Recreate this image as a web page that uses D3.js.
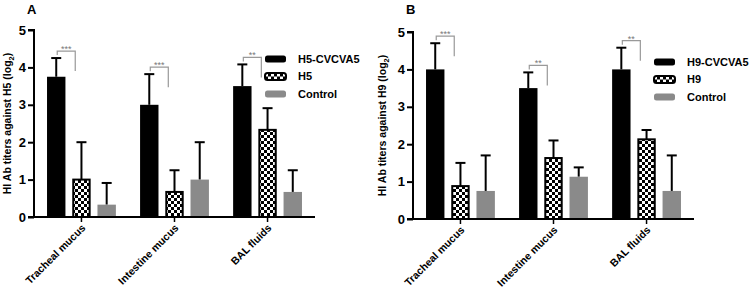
<!DOCTYPE html>
<html>
<head>
<meta charset="utf-8">
<script src="https://cdn.jsdelivr.net/npm/d3@7"></script>
<style>
  body { margin: 0; background: #fff; }
  svg { font-family: Arial, "Liberation Sans", sans-serif; }
</style>
</head>
<body>
<div id="chart"></div>
<script>
// categories and series
const categories = ["Tracheal mucus", "Intestine mucus", "BAL fluids"];
const yTicks = [0, 1, 2, 3, 4, 5];

// panel A (against H5)
const seriesA = ["H5-CVCVA5", "H5", "Control"];
const meanA = [[3.75, 1.0, 0.33], [3.0, 0.67, 1.0], [3.5, 2.33, 0.67]];
const errA = [[0.5, 1.0, 0.58], [0.82, 0.58, 1.0], [0.58, 0.58, 0.58]];
const starsA = ["***", "***", "**"];

// panel B (against H9)
const seriesB = ["H9-CVCVA5", "H9", "Control"];
const meanB = [[4.0, 0.88, 0.75], [3.5, 1.63, 1.13], [4.0, 2.13, 0.75]];
const errB = [[0.7, 0.62, 0.95], [0.42, 0.47, 0.25], [0.58, 0.25, 0.95]];
const starsB = ["***", "**", "**"];

const svg = d3.select("#chart")
    .append("svg")
    .attr("width", 750)
    .attr("height", 288);

// checker pattern for the middle series
const pat = svg.append("defs").append("pattern")
    .attr("id", "checker")
    .attr("patternUnits", "userSpaceOnUse")
    .attr("width", 6)
    .attr("height", 6);
pat.append("rect").attr("width", 6).attr("height", 6).attr("fill", "#fff");
pat.append("rect").attr("width", 3).attr("height", 3).attr("fill", "#000");
pat.append("rect").attr("x", 3).attr("y", 3).attr("width", 3).attr("height", 3).attr("fill", "#000");

const fills = ["#000", "url(#checker)", "#8a8a8a"];

function createPanel(opt) {
    const g = svg.append("g");
    const x0 = opt.axisX, x1 = opt.axisX + 281;

    const xScale = d3.scaleBand()
        .domain(categories)
        .range([x0, x1])
        .paddingInner(0.26)
        .paddingOuter(0.14);

    const xInner = d3.scaleBand()
        .domain(opt.series)
        .range([0, xScale.bandwidth()])
        .paddingInner(0.27);

    const yScale = d3.scaleLinear()
        .domain([0, 5])
        .range([opt.bottom, opt.top]);

    // panel letter
    g.append("text")
        .attr("x", opt.axisX - 7)
        .attr("y", 14)
        .attr("font-size", 13)
        .attr("font-weight", "bold")
        .text(opt.letter);

    // bars
    const rows = [];
    categories.forEach((c, i) => {
        opt.series.forEach((s, j) => {
            rows.push({cat: c, ser: s, j: j, v: opt.mean[i][j], e: opt.err[i][j]});
        });
    });

    const bx = d => xScale(d.cat) + xInner(d.ser);
    const bw = xInner.bandwidth();

    // error bars (drawn first so the bars sit over them)
    g.selectAll(".err")
        .data(rows)
        .enter()
        .append("line")
        .attr("x1", d => bx(d) + bw / 2)
        .attr("x2", d => bx(d) + bw / 2)
        .attr("y1", d => yScale(d.v))
        .attr("y2", d => yScale(d.v + d.e))
        .attr("stroke", "#000")
        .attr("stroke-width", 2);

    g.selectAll(".cap")
        .data(rows)
        .enter()
        .append("line")
        .attr("x1", d => bx(d) + bw / 2 - 5)
        .attr("x2", d => bx(d) + bw / 2 + 5)
        .attr("y1", d => yScale(d.v + d.e))
        .attr("y2", d => yScale(d.v + d.e))
        .attr("stroke", "#000")
        .attr("stroke-width", 2);

    g.selectAll(".bar")
        .data(rows)
        .enter()
        .append("rect")
        .attr("x", d => bx(d) + (d.j === 1 ? 1 : 0))
        .attr("y", d => yScale(d.v))
        .attr("width", d => bw - (d.j === 1 ? 2 : 0))
        .attr("height", d => yScale(0) - yScale(d.v))
        .attr("fill", d => fills[d.j])
        .attr("stroke", d => d.j === 1 ? "#000" : "none")
        .attr("stroke-width", 2);

    // significance brackets
    categories.forEach((c, i) => {
        const top = yScale(opt.mean[i][0] + opt.err[i][0]) - 7;
        const lx = xScale(c) + bw / 2 + 1;
        const rx = xScale(c) + xInner(opt.series[1]) + 3;
        g.append("path")
            .attr("d", `M${lx},${top + 4}V${top}H${rx}V${top + 20}`)
            .attr("fill", "none")
            .attr("stroke", "#999")
            .attr("stroke-width", 1.2);
        g.append("text")
            .attr("x", (lx + rx) / 2)
            .attr("y", top + 1)
            .attr("text-anchor", "middle")
            .attr("font-size", 9)
            .attr("fill", "#777")
            .text(opt.stars[i]);
    });

    // y axis
    const yAxis = g.append("g")
        .attr("transform", `translate(${x0},0)`)
        .call(d3.axisLeft(yScale).tickValues(yTicks).tickSize(6).tickPadding(2).tickFormat(d3.format("d")));
    yAxis.select(".domain").attr("stroke-width", 2).attr("d", `M-6,${yScale(5)}H0V${yScale(0)}H-6`);
    yAxis.selectAll(".tick line").attr("stroke-width", 2);
    yAxis.selectAll("text")
        .attr("font-size", 13)
        .attr("font-weight", "bold")
        .attr("font-family", "Arial, 'Liberation Sans', sans-serif")
        .attr("fill", "#000");

    // x axis
    const xAxis = g.append("g")
        .attr("transform", `translate(0,${yScale(0)})`)
        .call(d3.axisBottom(xScale).tickSize(5).tickSizeOuter(0).tickFormat(""));
    xAxis.select(".domain").attr("stroke-width", 2).attr("d", `M${x0},0H${x1}`);
    xAxis.selectAll(".tick line")
        .attr("stroke-width", 1.5)
        .attr("transform", `translate(${xInner(opt.series[1]) + bw / 2 - xScale.bandwidth() / 2},0)`);

    // rotated category labels
    g.selectAll(".xlab")
        .data(categories)
        .enter()
        .append("text")
        .attr("transform", d => `translate(${xScale(d) + xInner(opt.series[1]) + bw / 2 + 2},${yScale(0) + 9}) rotate(-45)`)
        .attr("text-anchor", "end")
        .attr("dy", "0.35em")
        .attr("font-size", 10.5)
        .attr("font-weight", "bold")
        .text(d => d);

    // y axis title
    const yt = g.append("text")
        .attr("transform", `translate(${x0 - opt.titleOff},${(opt.top + opt.bottom) / 2}) rotate(-90)`)
        .attr("text-anchor", "middle")
        .attr("font-size", 10.5)
        .attr("font-weight", "bold");
    yt.append("tspan").text(`HI Ab titers  against ${opt.virus} (log`);
    yt.append("tspan").attr("font-size", 7.5).attr("dy", 3).text("2");
    yt.append("tspan").attr("dy", -3).text(")");

    // legend
    const leg = g.append("g")
        .attr("transform", `translate(${opt.legX},${opt.legY})`);
    opt.series.forEach((s, j) => {
        const row = leg.append("g").attr("transform", `translate(0,${j * 17.5})`);
        row.append("rect")
            .attr("x", 0)
            .attr("y", -3.5)
            .attr("width", 21)
            .attr("height", 7)
            .attr("rx", 2.5)
            .attr("fill", j === 1 ? "url(#checker)" : fills[j])
            .attr("stroke", j === 1 ? "#000" : "none")
            .attr("stroke-width", 2);
        row.append("text")
            .attr("x", 33)
            .attr("y", 0)
            .attr("dy", "0.35em")
            .attr("font-size", 11)
            .attr("font-weight", "bold")
            .text(s);
    });
}

createPanel({letter: "A", virus: "H5", series: seriesA, mean: meanA, err: errA, stars: starsA,
    axisX: 34, top: 30, bottom: 217, legX: 265, legY: 59, titleOff: 23});
createPanel({letter: "B", virus: "H9", series: seriesB, mean: meanB, err: errB, stars: starsB,
    axisX: 413, top: 32, bottom: 219, legX: 654, legY: 62, titleOff: 27});
</script>
</body>
</html>
